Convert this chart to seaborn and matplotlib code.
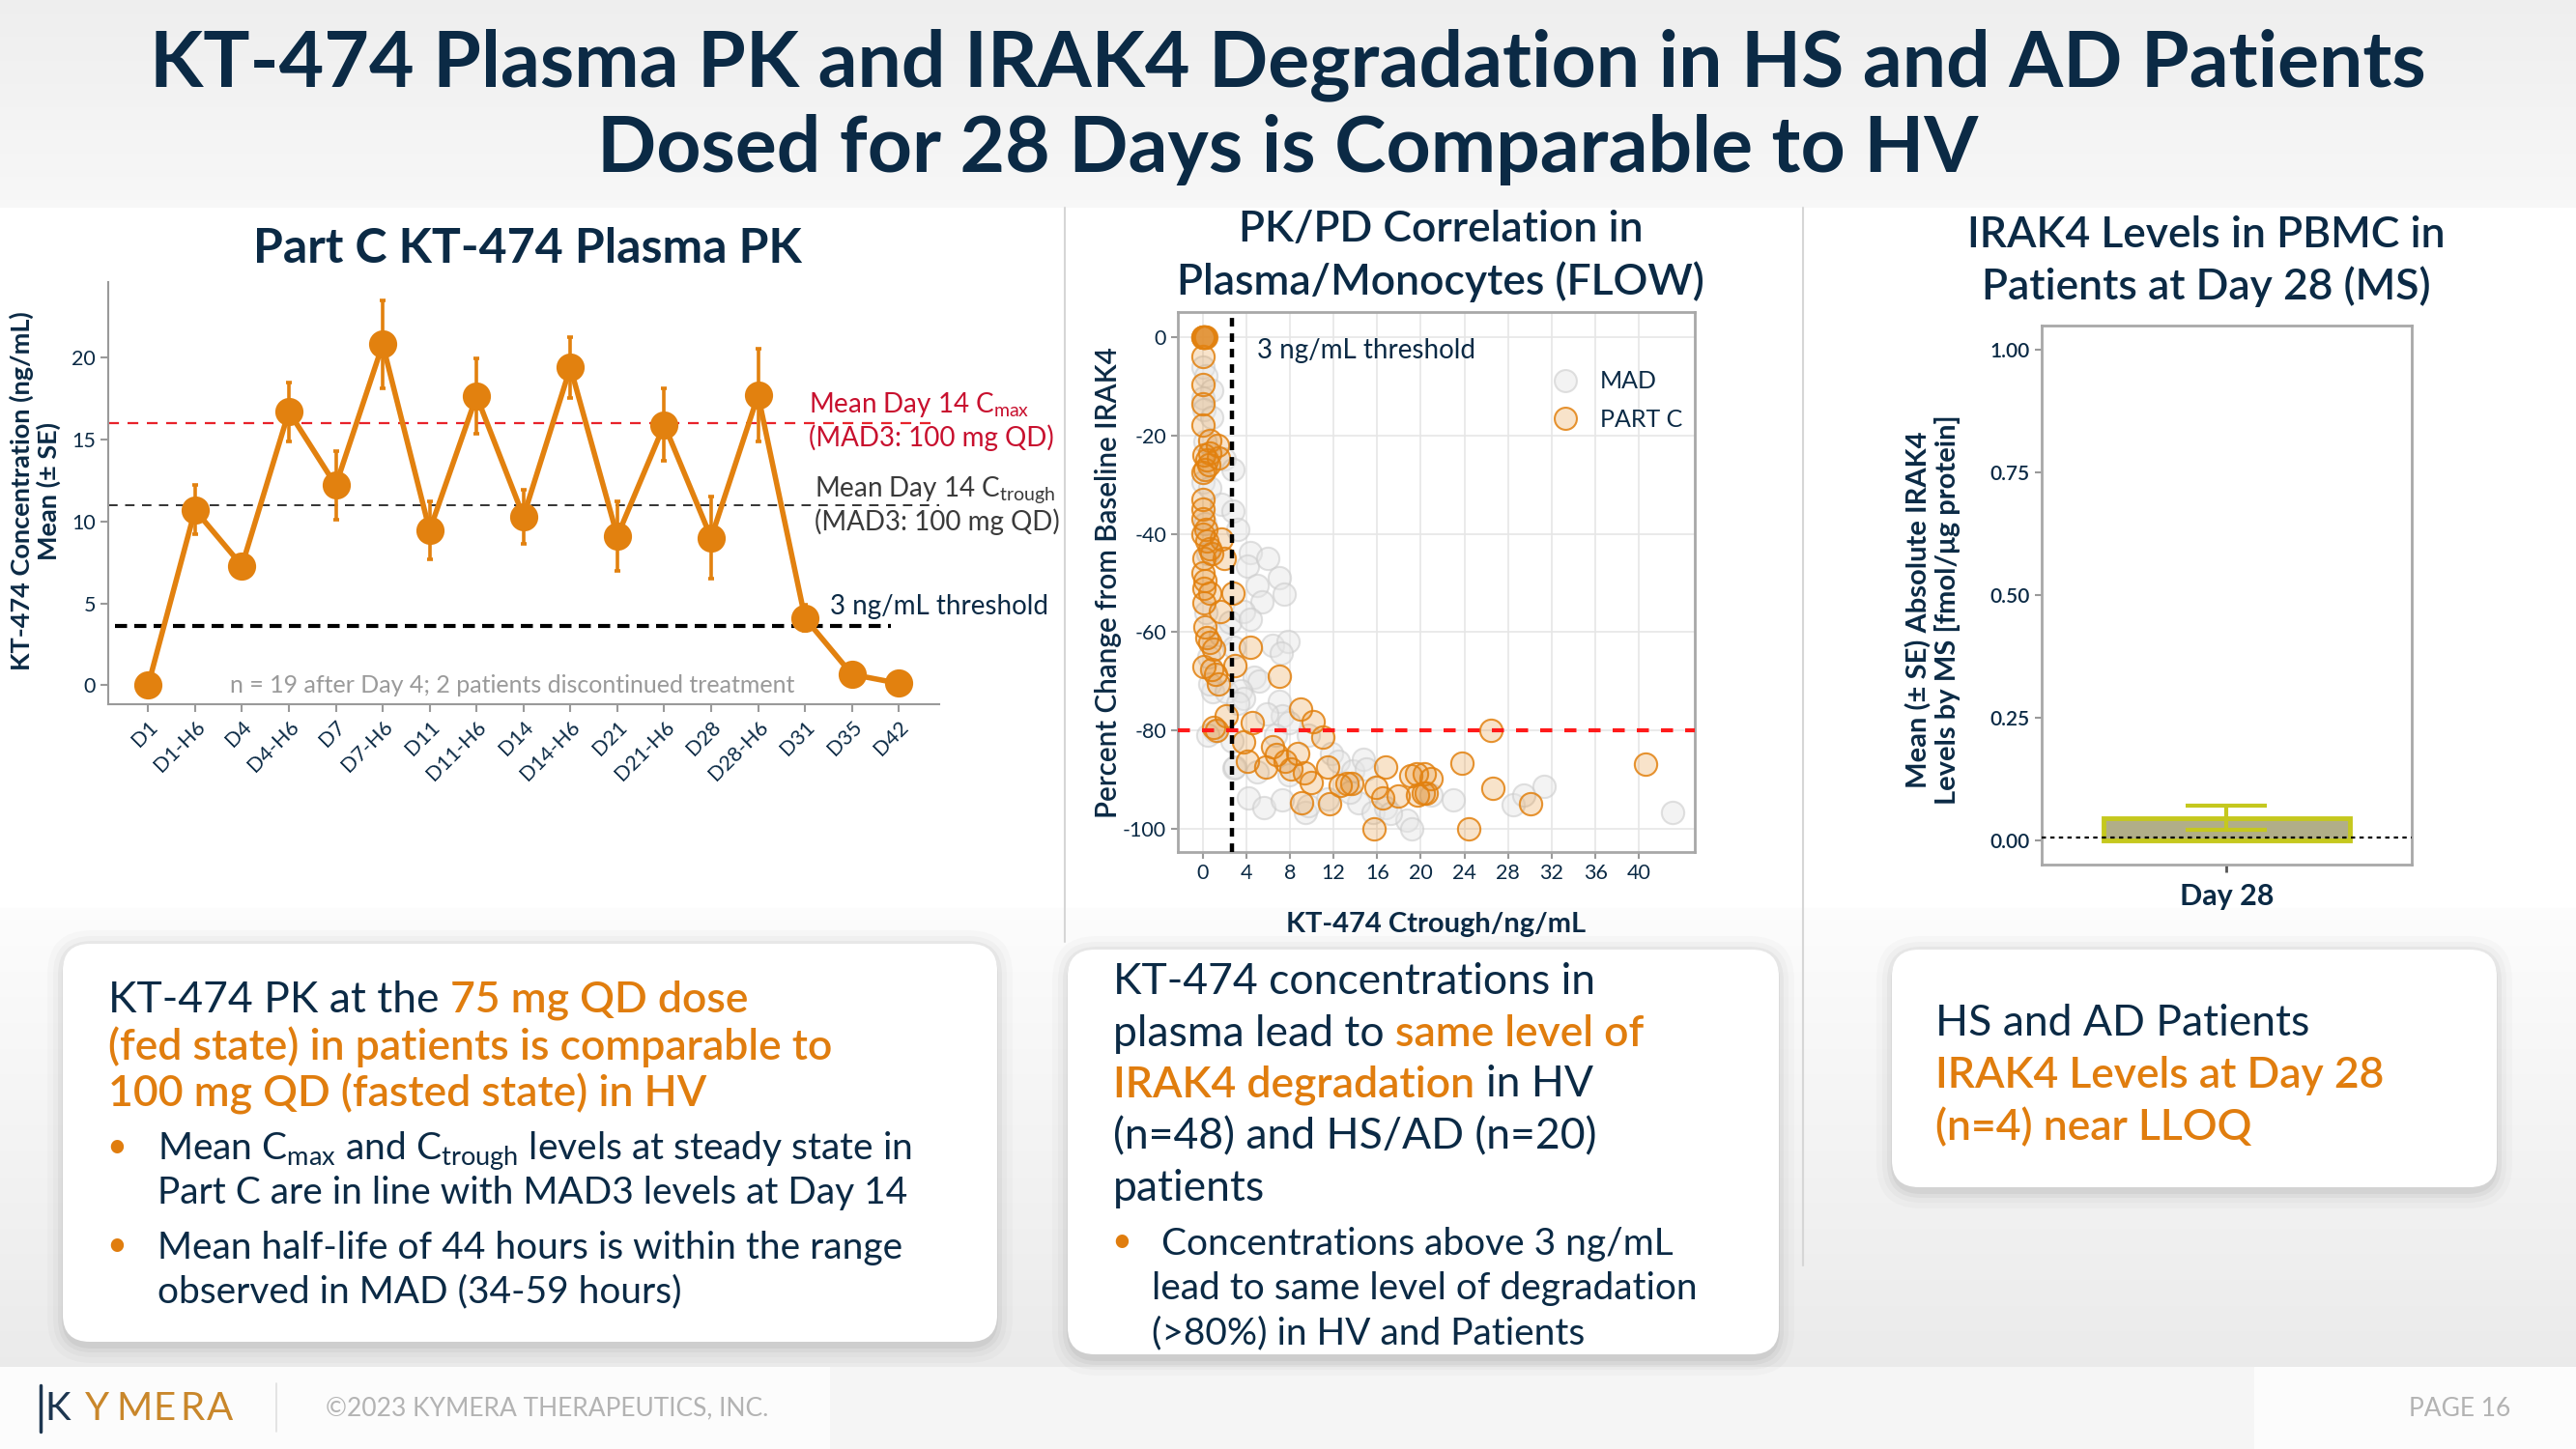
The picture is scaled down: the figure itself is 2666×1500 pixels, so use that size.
import numpy as np
import matplotlib
matplotlib.use("Agg")
import matplotlib.pyplot as plt
import seaborn as sns
from matplotlib.patches import FancyBboxPatch, Rectangle
from matplotlib.lines import Line2D
from matplotlib.transforms import IdentityTransform

# ---------------- data ----------------
pk_days = ["D1", "D1-H6", "D4", "D4-H6", "D7", "D7-H6", "D11", "D11-H6", "D14",
           "D14-H6", "D21", "D21-H6", "D28", "D28-H6", "D31", "D35", "D42"]
pk_mean = [0.0, 10.7, 7.3, 16.7, 12.2, 20.8, 9.45, 17.65, 10.3,
           19.4, 9.1, 15.9, 9.0, 17.7, 4.1, 0.67, 0.12]
pk_se = [0.0, 1.5, 0.6, 1.8, 2.1, 2.7, 1.75, 2.3, 1.65,
         1.85, 2.1, 2.2, 2.5, 2.85, 0.8, 0.1, 0.05]
cmax_ref = 16.0
ctrough_ref = 11.0
pk_threshold = 3.6

partc_x = [0.0, 0.1, 0.2, 0.3, 0.05, 0.15,
           0.05, 0.0, 0.0, 0.0, 0.7, 1.4, 0.1, 0.4, 0.6, 0.2, 0.7, 1.5, 0.0, 0.0,
           0.0, 0.0, 0.3, 0.0, 0.4, 0.7, 0.8, 0.1, 1.7, 2.0, 0.0, 0.2, 0.1, 0.7,
           2.75, 0.1, 1.6, 0.2, 0.4, 0.7, 1.0, 0.1, 0.8, 1.2, 1.5, 2.2, 1.0, 1.3,
           3.0, 4.4, 7.0, 4.6, 3.8, 9.0, 10.15, 11.0, 4.1, 5.8, 6.45, 6.75, 7.6,
           8.1, 8.7, 9.3, 10.0, 11.5, 12.65, 13.25, 13.7, 9.1, 11.6, 15.85, 16.75,
           16.5, 17.9, 19.1, 19.6, 20.3, 19.7, 20.2, 20.5, 20.9, 15.7, 23.75,
           24.4, 26.4, 26.6, 30.05, 40.6]
partc_y = [0, 0, 0, 0, 0, 0,
           -4, -9.7, -13.6, -17.8, -21, -22, -24, -25, -26, -27, -23.5, -24.5, -27.5, -33,
           -35, -37, -39, -40, -41.5, -43, -44, -45, -41, -45, -48, -49.6, -51, -52,
           -52, -54, -55.8, -59, -61, -62, -63.5, -67, -67.5, -68.6, -70.5, -77, -79.3, -80,
           -66.7, -63, -69, -78.3, -82.3, -75.7, -78.2, -81.3, -86.2, -87.4, -83.3, -84.9, -86.2,
           -87.8, -84.6, -88.5, -90.5, -87.5, -91.1, -90.8, -90.8, -94.6, -94.9, -91.5, -87.4,
           -93.7, -93.4, -89.2, -88.8, -88.8, -93.1, -92.8, -92.8, -89.8, -100, -86.7,
           -100, -80, -91.8, -94.9, -86.9]

mad_x = [0.0, 0.2, 0.0, 0.3, 0.8, 0.0, 0.1, 0.8, 0.2, 2.0, 2.75, 0.0, 0.7, 1.7,
         2.75, 3.2, 0.2, 0.5, 0.3, 0.6, 0.9, 1.6, 2.5, 2.9, 0.7, 2.2, 1.1, 2.7,
         2.9, 0.5, 4.4, 4.1, 6.0, 7.0, 7.5, 5.0, 5.4, 3.8, 4.4, 6.45, 7.8, 7.2,
         4.7, 5.2, 3.5, 3.8, 7.0, 7.3, 7.9, 3.2, 5.9, 6.7, 9.7, 3.0, 4.2, 5.6,
         7.3, 9.4, 11.8, 12.4, 13.8, 14.7, 15.0, 14.3, 15.6, 18.7, 19.2, 16.8,
         20.9, 23.0, 28.5, 29.4, 31.3, 43.1, 7.9, 5.0, 11.5, 13.5, 17.2, 9.7]
mad_y = [0, 0, -6, -7.8, -10.9, -12.4, -14.7, -16.3, -21.3, -24.8, -27, -29.5, -30.6, -34,
         -35.3, -39, -38, -44, -56, -65, -72, -60.5, -58, -63, -70.5, -72, -80.2, -82.2,
         -87.6, -81, -43.8, -46.5, -45, -49, -52.3, -50.4, -53.9, -55.8, -57.4, -62.6, -61.9, -64.2,
         -69.2, -70, -71.8, -73.4, -74, -77, -78.3, -74.4, -76.7, -81, -81, -87.5, -93.7, -95.7,
         -94, -96.7, -84.6, -86.2, -88.2, -85.9, -87.8, -94.7, -96.7, -98.3, -100, -95.7,
         -93.1, -94, -95.1, -93.1, -91.4, -96.6, -89, -88.4, -93.8, -92.6, -96.9, -95.3]
pd_threshold_x = 2.7
pd_target_y = -80

irak_day = ["Day 28"]
irak_mean = [0.045]
irak_se = [0.025]
irak_lloq = 0.006

# ---------------- style ----------------
NAVY = "#0B2A45"
ORANGE = "#E2810F"
ORANGE_T = "#E07D0E"
W, H = 2666, 1500

sns.set_theme(style="white")
plt.rcParams["font.family"] = ["Lato", "DejaVu Sans"]
plt.rcParams["mathtext.fontset"] = "custom"
plt.rcParams["mathtext.rm"] = "Lato"
plt.rcParams["mathtext.it"] = "Lato:italic"
plt.rcParams["mathtext.bf"] = "Lato:bold"
plt.rcParams["axes.unicode_minus"] = False

fig = plt.figure(figsize=(W / 100, H / 100), dpi=100)
R = fig.canvas.get_renderer()


def fx(px):
    return px / W


def fy(py):
    return 1 - py / H


# ---------------- background ----------------
bg = fig.add_axes([0, 0, 1, 1], zorder=-10)
col = np.ones(H)
rows = np.arange(H)
top = rows < 215
col[top] = 0.935 + 0.035 * rows[top] / 215
lowm = (rows >= 940) & (rows < 1415)
col[lowm] = 0.99 - 0.07 * (rows[lowm] - 940) / 475
col[rows >= 1415] = 0.992
img = np.repeat(col[:, None], 2, axis=1)
bg.imshow(np.dstack([img, img, img]), aspect="auto", extent=[0, 1, 0, 1],
          interpolation="bilinear")
bg.add_patch(Rectangle((fx(859), 0), fx(2333 - 859), 85 / H, color="#f5f5f5",
                       transform=bg.transAxes, lw=0))
bg.set_xlim(0, 1)
bg.set_ylim(0, 1)
bg.axis("off")

# separators
for xs, y0, y1 in [(1102, 215, 975), (1866, 215, 1310)]:
    fig.add_artist(Line2D([fx(xs), fx(xs)], [fy(y0), fy(y1)], color="#d6d6d6", lw=1.5))
fig.add_artist(Line2D([fx(286), fx(286)], [fy(1432), fy(1482)], color="#e0e0e0", lw=1.2))


def box(x0, y0, x1, y1):
    for k, a in [(18, 0.02), (12, 0.025), (7, 0.035), (3, 0.045)]:
        fig.add_artist(FancyBboxPatch((x0 - k + 2, H - y1 - k - 4), (x1 - x0) + 2 * k - 4,
                                      (y1 - y0) + 2 * k, boxstyle="round,pad=0,rounding_size=%d" % (28 + k),
                                      transform=IdentityTransform(), facecolor=(0, 0, 0, a),
                                      edgecolor="none", zorder=1))
    fig.add_artist(FancyBboxPatch((x0, H - y1), x1 - x0, y1 - y0,
                                  boxstyle="round,pad=0,rounding_size=28",
                                  transform=IdentityTransform(), facecolor="white",
                                  edgecolor="none", zorder=2))


box(65, 977, 1032, 1389)
box(1105, 983, 1841, 1402)
box(1958, 983, 2584, 1229)

# ---------------- titles ----------------
fig.text(0.5, fy(67), "KT-474 Plasma PK and IRAK4 Degradation in HS and AD Patients",
         ha="center", va="center", fontsize=58, fontweight="bold", color=NAVY)
fig.text(0.5, fy(155), "Dosed for 28 Days is Comparable to HV",
         ha="center", va="center", fontsize=58, fontweight="bold", color=NAVY)
fig.text(fx(546), fy(257), "Part C KT-474 Plasma PK", ha="center", va="center",
         fontsize=36, fontweight="bold", color=NAVY)
fig.text(fx(1491), fy(238), "PK/PD Correlation in", ha="center", va="center",
         fontsize=32, fontweight="semibold", color=NAVY)
fig.text(fx(1491), fy(292), "Plasma/Monocytes (FLOW)", ha="center", va="center",
         fontsize=32, fontweight="semibold", color=NAVY)
fig.text(fx(2283), fy(243), "IRAK4 Levels in PBMC in", ha="center", va="center",
         fontsize=32, fontweight="semibold", color=NAVY)
fig.text(fx(2283), fy(297), "Patients at Day 28 (MS)", ha="center", va="center",
         fontsize=32, fontweight="semibold", color=NAVY)

# ---------------- left: PK ----------------
ax1 = fig.add_axes([fx(112), fy(729), (972 - 112) / W, (729 - 292) / H])
sns.pointplot(x=pk_days, y=pk_mean, order=pk_days, color=ORANGE, markers="o",
              markersize=18, linewidth=4, errorbar=None, ax=ax1, zorder=4)
ax1.errorbar(np.arange(len(pk_days)), pk_mean, yerr=pk_se, fmt="none", ecolor=ORANGE,
             elinewidth=2.6, capsize=2.5, capthick=2.6, zorder=5)
ax1.axhline(cmax_ref, color="#E8232B", lw=1.6, ls=(0, (5, 4)), zorder=1)
ax1.axhline(ctrough_ref, color="#333333", lw=1.4, ls=(0, (5, 4)), zorder=1)
ax1.hlines(pk_threshold, -0.7, 15.83, color="black", lw=3, ls=(0, (3, 1.8)), zorder=2)
ax1.set_xlim(-0.85, 16.86)
ax1.set_ylim(-1.15, 24.6)
ax1.set_yticks([0, 5, 10, 15, 20])
ax1.set_xlabel("")
ax1.set_ylabel("")
for s in ["top", "right"]:
    ax1.spines[s].set_visible(False)
for s in ["left", "bottom"]:
    ax1.spines[s].set_color("#9a9a9a")
    ax1.spines[s].set_linewidth(1.5)
ax1.tick_params(axis="both", color="#9a9a9a", labelcolor=NAVY, length=6, width=1.5,
                labelsize=15.5, left=True, bottom=True)
for lab in ax1.get_xticklabels():
    lab.set_rotation(45)
    lab.set_ha("right")
    lab.set_rotation_mode("anchor")
ax1.text(14.08, 17.1, r"Mean Day 14 C$_{\mathrm{max}}$", color="#C8102E", fontsize=20,
         va="center", clip_on=False)
ax1.text(14.08, 15.1, "(MAD3: 100 mg QD)", color="#C8102E", fontsize=20, va="center",
         clip_on=False)
ax1.text(14.2, 11.96, r"Mean Day 14 C$_{\mathrm{trough}}$", color="#3a3a3a", fontsize=20,
         va="center", clip_on=False)
ax1.text(14.2, 9.95, "(MAD3: 100 mg QD)", color="#3a3a3a", fontsize=20, va="center",
         clip_on=False)
ax1.text(14.53, 4.8, "3 ng/mL threshold", color=NAVY, fontsize=20, va="center",
         clip_on=False)
ax1.text(7.77, 0.0, "n = 19 after Day 4; 2 patients discontinued treatment",
         color="#9a9a9a", fontsize=18, ha="center", va="center")
fig.text(fx(36), fy(508), "KT-474 Concentration (ng/mL)\nMean (± SE)", rotation=90,
         ha="center", va="center", fontsize=19.5, fontweight="bold", color=NAVY,
         multialignment="center", linespacing=1.12)

# ---------------- middle: PK/PD scatter ----------------
ax2 = fig.add_axes([fx(1219), fy(882), (1754 - 1219) / W, (882 - 323) / H])
gray_face = (0.9, 0.9, 0.9, 0.45)
gray_edge = (0.8, 0.8, 0.8, 0.6)
org_face = (0.886, 0.506, 0.06, 0.22)
org_edge = (0.886, 0.506, 0.06, 0.85)
sns.scatterplot(x=mad_x, y=mad_y, s=280, ax=ax2, linewidth=1.5, zorder=2)
ax2.collections[-1].set_facecolor(gray_face)
ax2.collections[-1].set_edgecolor(gray_edge)
sns.scatterplot(x=partc_x, y=partc_y, s=280, ax=ax2, linewidth=1.5, zorder=3)
ax2.collections[-1].set_facecolor(org_face)
ax2.collections[-1].set_edgecolor(org_edge)
ax2.axvline(pd_threshold_x, color="black", lw=3.2, ls=(0, (2, 1.6)), zorder=4)
ax2.axhline(pd_target_y, color="#FF1A1A", lw=3, ls=(0, (3, 3)), zorder=4)
ax2.set_xlim(-2.26, 45.1)
ax2.set_ylim(-104.7, 5.1)
ax2.set_xticks(np.arange(0, 41, 4))
ax2.set_yticks(np.arange(-100, 1, 20))
ax2.grid(True, color="#e6e6e6", lw=1.2)
ax2.set_axisbelow(True)
for s in ax2.spines.values():
    s.set_color("#a8a8a8")
    s.set_linewidth(2)
ax2.tick_params(axis="both", color="#9a9a9a", labelcolor=NAVY, length=5, width=1.5,
                labelsize=15.5, left=True, bottom=True)
ax2.text(5.0, -2.7, "3 ng/mL threshold", color=NAVY, fontsize=20, va="center")
handles = [Line2D([], [], marker="o", ls="", markersize=16.5, markerfacecolor=gray_face,
                  markeredgecolor=gray_edge, markeredgewidth=1.5),
           Line2D([], [], marker="o", ls="", markersize=16.5, markerfacecolor=org_face,
                  markeredgecolor=org_edge, markeredgewidth=1.5)]
ax2.legend(handles, ["MAD", "PART C"], loc="upper right", bbox_to_anchor=(0.995, 0.91),
           frameon=False, fontsize=18, labelcolor=NAVY, handletextpad=0.45,
           labelspacing=0.65, borderaxespad=0)
ax2.set_xlabel("KT-474 Ctrough/ng/mL", fontsize=21, fontweight="bold", color=NAVY,
               labelpad=22)
ax2.set_ylabel("")
fig.text(fx(1147), fy(603), "Percent Change from Baseline IRAK4", rotation=90,
         ha="center", va="center", fontsize=21.3, fontweight="semibold", color=NAVY)

# ---------------- right: IRAK4 bar ----------------
ax3 = fig.add_axes([fx(2112.5), fy(895), (2496 - 2112.5) / W, (895 - 337) / H])
FILL = "#B1AE88"
EDGE = "#C5C81E"
sns.barplot(x=irak_day, y=irak_mean, width=0.665, color=FILL, saturation=1,
            edgecolor=EDGE, linewidth=3.5, errorbar=None, ax=ax3)
ax3.errorbar([0], irak_mean, yerr=irak_se, fmt="none", ecolor=EDGE, elinewidth=3,
             capsize=30, capthick=3, zorder=5)
ax3.axhline(irak_lloq, color="black", lw=1.6, ls=(0, (2, 2)), zorder=6)
ax3.set_xlim(-0.5, 0.5)
ax3.set_ylim(-0.05, 1.049)
ax3.set_yticks([0, 0.25, 0.5, 0.75, 1.0])
ax3.set_yticklabels(["0.00", "0.25", "0.50", "0.75", "1.00"])
for s in ax3.spines.values():
    s.set_color("#a8a8a8")
    s.set_linewidth(2)
ax3.tick_params(axis="y", color="#9a9a9a", labelcolor=NAVY, length=5, width=1.5,
                labelsize=15, left=True)
ax3.tick_params(axis="x", color="#555555", labelcolor=NAVY, length=6, width=2,
                labelsize=22, bottom=True, pad=8)
for lab in ax3.get_xticklabels():
    lab.set_fontweight("bold")
for lab in ax3.get_yticklabels():
    lab.set_fontweight("semibold")
ax3.set_xlabel("")
ax3.set_ylabel("")
fig.text(fx(2001), fy(631), "Mean (± SE) Absolute IRAK4\nLevels by MS [fmol/μg protein]",
         rotation=90, ha="center", va="center", fontsize=21, fontweight="bold",
         color=NAVY, multialignment="center", linespacing=1.12)


# ---------------- text boxes ----------------
def text_w(s, size, weight):
    t = fig.text(0, 0, s, fontsize=size, fontweight=weight)
    w = t.get_window_extent(renderer=R).width
    t.remove()
    return w


def rich(xpx, ypx, parts, size):
    x = xpx
    base = ypx + 0.36 * size * 100 / 72
    for s, color, weight in parts:
        spw = text_w("a a", size, weight) - text_w("aa", size, weight)
        lead = len(s) - len(s.lstrip(" "))
        trail = len(s) - len(s.rstrip(" "))
        core = s.strip(" ")
        x += lead * spw
        t = fig.text(x / W, 1 - base / H, core, color=color, fontsize=size,
                     fontweight=weight, va="baseline", ha="left", zorder=5)
        x += t.get_window_extent(renderer=R).width + trail * spw


def bullet(xpx, ypx, size):
    fig.text(xpx / W, fy(ypx), "•", color=ORANGE_T, fontsize=size, ha="left",
             va="center", zorder=5)


N, O = NAVY, ORANGE_T
rich(112, 1032, [("KT-474 PK at the ", N, "normal"), ("75 mg QD dose", O, "semibold")], 32)
rich(112, 1081, [("(fed state) in patients is comparable to", O, "semibold")], 32)
rich(112, 1129, [("100 mg QD (fasted state) in HV", O, "semibold")], 32)
bullet(110, 1187, 26)
rich(163, 1187, [(r"Mean C$_{\mathrm{max}}$ and C$_{\mathrm{trough}}$ levels at steady state in", N, "normal")], 28)
rich(163, 1232, [("Part C are in line with MAD3 levels at Day 14", N, "normal")], 28)
bullet(110, 1289, 26)
rich(163, 1289, [("Mean half-life of 44 hours is within the range", N, "normal")], 28)
rich(163, 1334, [("observed in MAD (34-59 hours)", N, "normal")], 28)

rich(1152, 1013, [("KT-474 concentrations in", N, "normal")], 32)
rich(1152, 1067, [("plasma lead to ", N, "normal"), ("same level of", O, "semibold")], 32)
rich(1152, 1119, [("IRAK4 degradation", O, "semibold"), (" in HV", N, "normal")], 32)
rich(1152, 1173, [("(n=48) and HS/AD (n=20)", N, "normal")], 32)
rich(1152, 1227, [("patients", N, "normal")], 32)
bullet(1150, 1285, 26)
rich(1202, 1285, [("Concentrations above 3 ng/mL", N, "normal")], 28)
rich(1192, 1331, [("lead to same level of degradation", N, "normal")], 28)
rich(1192, 1377, [("(>80%) in HV and Patients", N, "normal")], 28)

rich(2003, 1056, [("HS and AD Patients", N, "normal")], 32)
rich(2003, 1110, [("IRAK4 Levels at Day 28", O, "semibold")], 32)
rich(2003, 1164, [("(n=4) near LLOQ", O, "semibold")], 32)

# ---------------- footer ----------------
fig.add_artist(Line2D([fx(42), fx(42)], [fy(1434), fy(1482)], color="#1d3650", lw=2.5))
for ch, xp, c in zip("KYMERA", [60, 100, 139, 170, 199, 228],
                     ["#1d3650", "#C9872B", "#C9872B", "#C9872B", "#C9872B", "#C9872B"]):
    fig.text(fx(xp), fy(1458), ch, fontsize=29, fontweight="normal", color=c,
             ha="center", va="center")
fig.text(fx(337), fy(1458), "©2023 KYMERA THERAPEUTICS, INC.", fontsize=19,
         color="#b3b3b3", ha="left", va="center")
fig.text(fx(2598), fy(1458), "PAGE 16", fontsize=19, color="#b3b3b3", ha="right",
         va="center")

fig.savefig("out.png", dpi=100)
